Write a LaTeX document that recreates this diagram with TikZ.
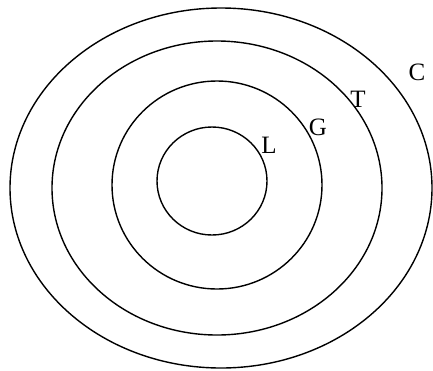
\documentclass[tikz,border=0pt]{standalone}
\usepackage{fontspec}
\setmainfont{Liberation Serif}
\usetikzlibrary{positioning}

\begin{document}
\begin{tikzpicture}[x=1pt, y=-1pt, ring/.style={draw, line width=1.4pt}, lbl/.style={font=\fontsize{25}{25}\selectfont, inner sep=0pt}]
\useasboundingbox (0,0) rectangle (433,370);

\draw[ring] (221,188) ellipse (211 and 180);
\draw[ring] (217,188) ellipse (165 and 147);
\draw[ring] (217,185) ellipse (105 and 104);
\draw[ring] (212,181) ellipse (55 and 54);

\node[lbl] (l) at (269,145) {L};
\node[lbl] (g) at (318,127) {G};
\node[lbl] (t) at (358,99) {T};
\node[lbl] (c) at (417,72) {C};
\end{tikzpicture}
\end{document}
